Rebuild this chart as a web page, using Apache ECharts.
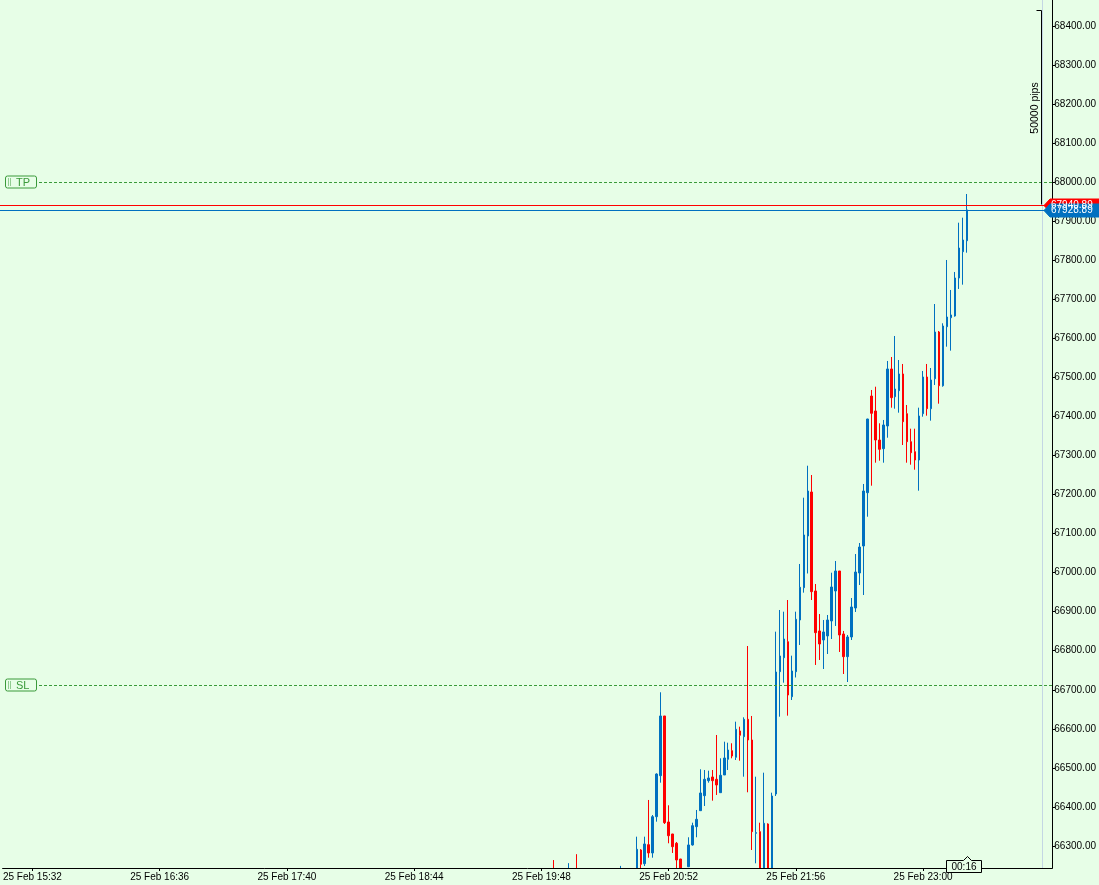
<!DOCTYPE html>
<html>
<head>
<meta charset="utf-8">
<script src="https://cdn.jsdelivr.net/npm/echarts@6/dist/echarts.min.js"></script>
<style>
html,body{margin:0;padding:0;background:#e7fee7;}
#c{width:1099px;height:885px;}
</style>
</head>
<body>
<div id="c"></div>
<script>
// ---------------- data ----------------
const slotStart = '15:18';          // first 2-minute slot shown at the left edge
const slotMinutes = 2;
const slotCount = 264;
const firstLabel = '25 Feb 15:32';
const lastLabel = '25 Feb 23:00';
const labelEvery = 32;

const firstCandle = '25 Feb 19:54';
const opens = [66230,null,null,null,66215,null,66235,null,null,null,null,null,null,null,null,null,null,66215,null,null,null,
 66235,66289.7,66254.6,66303.3,66282.1,66375.0,66480.0,66632.9,66361.4,66330.7,66306.9,66266.6,null,66246.9,66302.6,66349.4,
 66390.4,66428.8,66467.2,66476.7,66470.8,66436.5,66481.8,66522.0,66544.0,66527.1,66594.5,66579.9,66624.4,66571.4,66332.5,66336.6,
 66230,66356.3,66238,66433.1,66746.3,66782.1,66823.1,66682.3,66746.3,66878.7,66961.5,67093.9,67206.5,66953.0,66850.6,66827.5,
 66837.8,66876.2,66953.0,67004.2,66842.9,66784.8,66835.2,66909.4,66999.1,67068.2,67204.7,67452.3,67413.9,67339.6,67317.4,67375.5,
 67521.5,67450.5,67465.9,67508.7,67407.0,67335.3,67309.7,67288.4,67407.0,67501.0,67419.8,67496.6,67616.2,67478.7,67629.8,67652.8,
 67657.2,67754.5,67821.8,67850.0];
const closes = [66210,null,null,null,66235,null,66220,null,null,null,null,null,null,null,null,null,null,66238,null,null,null,
 66291.5,66253.1,66305.1,66282.1,66375.0,66484.3,66632.9,66359.6,66326.3,66298.2,66264.1,66238,null,66302.6,66352.0,66368.3,
 66435.7,66470.8,66474.1,66467.2,66456.2,66481.0,66525.3,66545.8,66530.4,66598.8,66583.5,66624.4,66571.4,66336.6,66334.1,66232,
 66358.1,66236,66428.0,66745.5,66786.5,66830.0,66686.6,66748.1,66880.5,66962.5,67096.4,67209.0,66951.2,66846.2,66817.2,66848.0,
 66878.7,66963.2,67004.2,66840.3,66784.8,66835.2,66912.0,67001.6,67065.6,67209.0,67393.4,67408.0,67339.6,67315.8,67378.1,67521.5,
 67448.0,67470.2,67508.7,67386.5,67335.3,67307.1,67288.4,67401.1,67501.0,67419.8,67493.3,67616.2,67478.7,67631.6,67654.6,67659.8,
 67754.5,67831.3,67851.8,67928.89];
const lows = [66200,null,null,null,66205,null,66210,null,null,null,null,null,null,null,null,null,null,66200,null,null,null,
 66225,66238,66248.7,66270.0,66270.0,66362.2,66462.1,66356.3,66306.9,66282.1,66240,66225,null,66246,66300.8,66322.3,
 66390.4,66402.4,66462.1,66416.0,66430.6,66436.5,66481.8,66494.6,66524.5,66520.2,66518.4,66477.4,66437.5,66289.7,66255.6,66220,
 66215,66220,66225,66428,66631.1,66718.1,66633.7,66673.8,66731.5,66814.7,66948.7,66997.8,66929.9,66763.5,66776.3,66753.2,
 66791.6,66830.0,66863.4,66796.8,66740.4,66719.9,66827.5,66899.2,66968.3,66942.7,67143.2,67222.6,67281.5,67286.6,67281.5,67345.5,
 67422.4,67419.8,67409.6,67326.8,67281.5,67276.4,67263.6,67209.8,67399.3,67401.9,67389.1,67480.5,67432.6,67476.1,67578.6,67568.4,
 67655.5,67726.4,67737.4,67819.3];
const highs = [66264,null,null,null,66256,null,66279,null,null,null,null,null,null,null,null,null,null,66249,null,null,null,
 66323.8,66292,66323.8,66417.8,66379.3,66486,66693.6,66633,66404.2,66331,66310.2,66267,null,66322.3,66359.6,66392.2,
 66496.4,66494.6,66492.8,66494.6,66584.2,66524.5,66567.1,66564.5,66563.0,66618.3,66605.5,66629.5,66812.1,66632.9,66477.4,66359.6,
 66487.7,66358,66436.5,66848.8,66904.3,66900.0,66929.9,66787.3,66900.0,67022.1,67191.9,67273.8,67250.0,66970.9,66894.0,66878.7,
 66891.5,66999.8,67029.8,67004.2,66850.6,66840.3,66935.0,67047.7,67075.9,67227.0,67394,67467.7,67476.1,67382.4,67390.9,67542.0,
 67552.2,67606.0,67544.5,67534.3,67429.3,67368.6,67368.6,67422.4,67516.4,67534.3,67524.0,67687.9,67618.8,67638.5,67800.6,67723.8,
 67769.9,67896.1,67908.9,67969.6];

const yTicks = [66300,66400,66500,66600,66700,66800,66900,67000,67100,67200,67300,67400,
 67500,67600,67700,67800,67900,68000,68100,68200,68300,68400];
const yMin = 66243.6, yMax = 68466.4;

const tpPrice = 68000, slPrice = 66712;
const askPrice = 67940.89, bidPrice = 67928.89;
const pipsTop = 68440.89, pipsText = '50000 pips';
const timerText = '00:16';

// ---------------- build ----------------
const BG = '#e7fee7', BLUE = '#0070c0', RED = '#ff0000', GREEN = '#3a9a3a';
const FONT = '"Liberation Sans", Arial, sans-serif';
const pad = n => String(n).padStart(2, '0');
const categories = [];
{
  const [h0, m0] = slotStart.split(':').map(Number);
  for (let i = 0; i < slotCount; i++) {
    let t = h0 * 60 + m0 + i * slotMinutes;
    const d = 25 + Math.floor(t / 1440); t %= 1440;
    categories.push(d + ' Feb ' + pad(Math.floor(t / 60)) + ':' + pad(t % 60));
  }
}
const firstLabelIdx = categories.indexOf(firstLabel);
const lastLabelIdx = categories.indexOf(lastLabel);
const showIdx = i => i >= firstLabelIdx && i <= lastLabelIdx && (i - firstLabelIdx) % labelEvery === 0;

const idx0 = categories.indexOf(firstCandle);
const candleData = categories.map(() => '-');
opens.forEach((o, j) => {
  if (o != null) candleData[idx0 + j] = [o, closes[j], lows[j], highs[j]];
});
const lastIdx = idx0 + opens.length - 1;

const chart = echarts.init(document.getElementById('c'), null, {renderer: 'canvas'});
chart.setOption({
  animation: false,
  backgroundColor: BG,
  grid: {left: -2.5, right: 45.5, top: 0, bottom: 17, containLabel: false},
  xAxis: {
    type: 'category', data: categories, boundaryGap: true, z: 50,
    axisLine: {show: true, lineStyle: {color: '#000', width: 1}},
    axisTick: {show: true, alignWithLabel: true, interval: showIdx, length: 3, lineStyle: {color: '#000'}},
    axisLabel: {show: true, interval: showIdx, color: '#000', fontFamily: FONT, fontSize: 10, margin: 4},
    splitLine: {show: false}
  },
  yAxis: {
    type: 'value', position: 'right', min: yMin, max: yMax, scale: true, z: 50,
    axisLine: {show: true, lineStyle: {color: '#000', width: 1}},
    axisTick: {show: true, length: 3, customValues: yTicks, lineStyle: {color: '#000'}},
    axisLabel: {show: true, customValues: yTicks, color: '#000', fontFamily: FONT, fontSize: 10, margin: 2,
      formatter: v => v.toFixed(2)},
    splitLine: {show: false}
  },
  series: [{
    type: 'candlestick',
    data: candleData,
    barWidth: 2,
    clip: true,
    z: 2,
    itemStyle: {color: BLUE, color0: RED, borderColor: BLUE, borderColor0: RED, borderWidth: 1}
  }]
});

// ---------------- annotations (positioned through the chart's scales) ----------------
const py = v => chart.convertToPixel({yAxisIndex: 0}, v);
const px = c => chart.convertToPixel({xAxisIndex: 0}, c);
const axisY = Math.round(py(yMin)) + 0.5;
const axisX = Math.round(px(categories[slotCount - 1]) + 2);
const els = [];
const txt = (x, y, text, fill, extra) => Object.assign({
  type: 'text', z: 120, silent: true, x, y,
  style: Object.assign({text, fill, font: '10px ' + FONT, align: 'left', textAlign: 'left',
    verticalAlign: 'middle', textVerticalAlign: 'middle'}, extra || {})
});

// hide the parts of candles that run below the plot area
els.push({type: 'rect', z: 20, silent: true,
  shape: {x: 0, y: axisY + 0.5, width: axisX, height: 885 - axisY}, style: {fill: BG}});

// chart-shift separator
const sepX = axisX - 10 + 0.5;
els.push({type: 'line', z: 30, silent: true, shape: {x1: sepX, y1: 0, x2: sepX, y2: axisY - 0.5},
  style: {stroke: '#c4d6e4', lineWidth: 1}});

// horizontal level lines
const hLine = (p, col, dash, x1) => {
  const y = Math.round(py(p)) + 0.5;
  const style = {stroke: col, lineWidth: 1};
  if (dash) style.lineDash = dash;
  els.push({type: 'line', z: 95, silent: true, shape: {x1: x1, y1: y, x2: axisX, y2: y}, style});
};
hLine(tpPrice, GREEN, [3, 2], 39);
hLine(slPrice, GREEN, [3, 2], 39);
hLine(askPrice, RED, null, 0);
hLine(bidPrice, BLUE, null, 0);

// TP / SL label boxes
[[tpPrice, 'TP'], [slPrice, 'SL']].forEach(([p, name]) => {
  const y = Math.round(py(p)) + 0.5;
  els.push({type: 'rect', z: 111, silent: true, shape: {x: 5.5, y: y - 6.5, width: 31, height: 12, r: 2},
    style: {fill: BG, stroke: GREEN, lineWidth: 1}});
  els.push({type: 'line', z: 112, silent: true, shape: {x1: 8.5, y1: y - 4, x2: 8.5, y2: y + 4},
    style: {stroke: GREEN, lineWidth: 1, lineDash: [1, 1]}});
  els.push({type: 'line', z: 112, silent: true, shape: {x1: 10.5, y1: y - 4, x2: 10.5, y2: y + 4},
    style: {stroke: GREEN, lineWidth: 1, lineDash: [1, 1]}});
  els.push(txt(16, y, name, GREEN, {font: '11px ' + FONT}));
});

// pips measurement bracket
{
  const yT = Math.round(py(pipsTop)) + 0.5, yB = Math.round(py(askPrice)) + 0.5;
  const bx = axisX - 11 + 0.5;
  els.push({type: 'polyline', z: 115, silent: true,
    shape: {points: [[bx - 5, yT], [bx, yT], [bx, yB - 1]]},
    style: {stroke: '#000', lineWidth: 1, fill: null}});
  els.push(Object.assign(txt(bx - 6, (yT + yB) / 2, pipsText, '#000',
    {align: 'center', textAlign: 'center', font: '10.5px ' + FONT}), {rotation: Math.PI / 2}));
}

// price tags on the right axis
[[askPrice, RED], [bidPrice, BLUE]].forEach(([p, col]) => {
  const y = Math.round(py(p)) + 0.5;
  const x0 = axisX - 8;
  els.push({type: 'polygon', z: 130, silent: true,
    shape: {points: [[x0, y], [x0 + 6, y - 6.5], [1099, y - 6.5], [1099, y + 6.5], [x0 + 6, y + 6.5]]},
    style: {fill: col, stroke: col, lineWidth: 1}});
  els.push(Object.assign(txt(x0 + 7, y, p.toFixed(2), '#fff'), {z: 131}));
});

// countdown box under the last candle
{
  const cx = Math.round(px(categories[lastIdx])) + 0.5;
  const l = cx - 21, r = cx + 14, t = axisY - 8, b = axisY + 4;
  els.push({type: 'polygon', z: 125, silent: true,
    shape: {points: [[l, t], [cx - 4, t], [cx, t - 4], [cx + 4, t], [r, t], [r, b], [l, b]]},
    style: {fill: BG, stroke: '#000', lineWidth: 1}});
  els.push(Object.assign(txt((l + r) / 2, (t + b) / 2 + 0.5, timerText, '#000',
    {align: 'center', textAlign: 'center'}), {z: 126}));
}

chart.setOption({graphic: {elements: els}});
</script>
</body>
</html>
